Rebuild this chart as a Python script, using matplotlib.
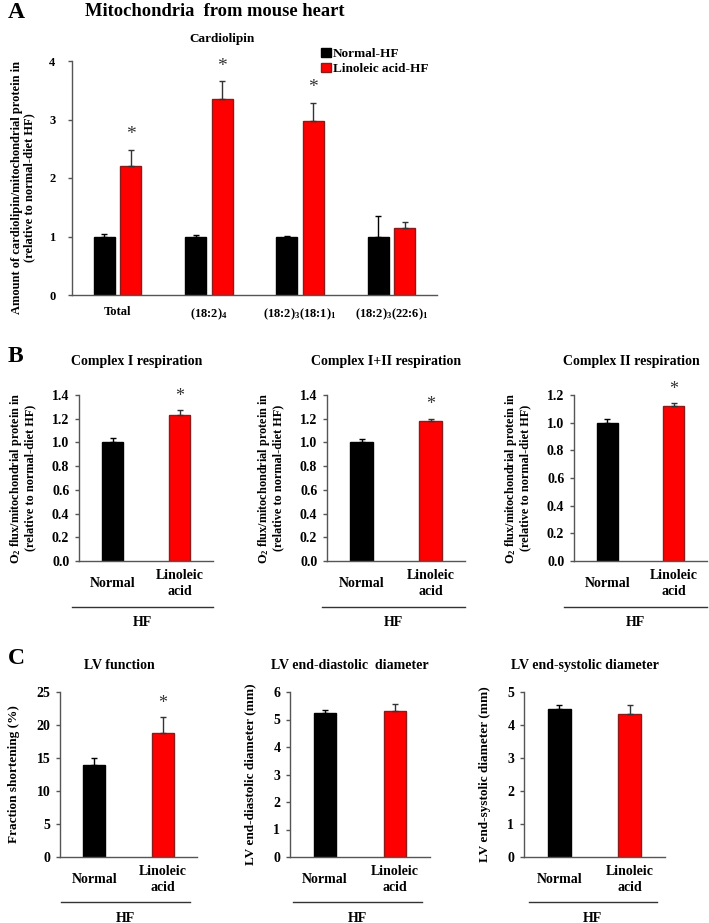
import numpy as np
import matplotlib
matplotlib.use('Agg')
import matplotlib.pyplot as plt

plt.rcParams['font.family'] = ['Liberation Serif', 'DejaVu Serif']
plt.rcParams['font.weight'] = 'bold'
plt.rcParams['axes.labelweight'] = 'bold'
plt.rcParams['mathtext.fontset'] = 'custom'
plt.rcParams['mathtext.rm'] = 'Liberation Serif:bold'
plt.rcParams['mathtext.it'] = 'Liberation Serif:bold'
plt.rcParams['mathtext.bf'] = 'Liberation Serif:bold'

# Panel A data
cl_species = ['Total', '(18:2)$_4$', '(18:2)$_3$(18:1)$_1$', '(18:2)$_3$(22:6)$_1$']
cl_normal = [1.0, 1.0, 1.0, 1.0]
cl_normal_err = [0.05, 0.03, 0.01, 0.35]
cl_linoleic = [2.2, 3.35, 2.97, 1.14]
cl_linoleic_err = [0.28, 0.3, 0.31, 0.1]
cl_sig = [True, True, True, False]

# Panel B data
resp_titles = ['Complex I respiration', 'Complex I+II respiration', 'Complex II respiration']
resp_vals = [[1.0, 1.23], [1.0, 1.18], [1.0, 1.12]]
resp_errs = [[0.035, 0.04], [0.025, 0.02], [0.025, 0.02]]
resp_ymax = [1.4, 1.4, 1.2]

# Panel C data
lv_titles = ['LV function', 'LV end-diastolic  diameter', 'LV end-systolic diameter']
lv_ylabels = ['Fraction shortening (%)', 'LV end-diastolic diameter (mm)', 'LV end-systolic diameter (mm)']
lv_vals = [[14.0, 18.8], [5.25, 5.3], [4.5, 4.32]]
lv_errs = [[1.0, 2.4], [0.08, 0.27], [0.12, 0.3]]
lv_ymax = [25, 6, 5]
lv_ystep = [5, 1, 1]
lv_sig = [True, False, False]

groups = ['Normal', 'Linoleic\nacid']
black = '#000000'
red = '#ff0000'
red_edge = '#8b1a1a'
spine_col = '#555555'

W, H = 709, 923
fig = plt.figure(figsize=(W / 100, H / 100), dpi=100)


def px_axes(x0, x1, ytop, ybot):
    return fig.add_axes([x0 / W, 1 - ybot / H, (x1 - x0) / W, (ybot - ytop) / H])


def style(ax, fs):
    for s in ['top', 'right']:
        ax.spines[s].set_visible(False)
    for s in ['left', 'bottom']:
        ax.spines[s].set_color(spine_col)
        ax.spines[s].set_linewidth(1.0)
    ax.tick_params(axis='y', direction='out', length=3, width=1, color=spine_col, labelsize=fs, pad=4)
    ax.tick_params(axis='x', length=0)


# ---- Panel A ----
axA = px_axes(72, 437, 61, 295)
x = np.arange(len(cl_species))
bw = 0.23
off = 0.145
axA.bar(x - off, cl_normal, bw, color=black, edgecolor=black, label='Normal-HF',
        yerr=[np.zeros(4), cl_normal_err], error_kw=dict(ecolor=black, capsize=2.5, elinewidth=1, capthick=1))
axA.bar(x + off, cl_linoleic, bw, color=red, edgecolor=red_edge, label='Linoleic acid-HF',
        yerr=[np.zeros(4), cl_linoleic_err], error_kw=dict(ecolor='#333333', capsize=2.5, elinewidth=1, capthick=1))
for i in range(len(x)):
    if cl_sig[i]:
        axA.annotate('*', xy=(x[i] + off, cl_linoleic[i] + cl_linoleic_err[i]), xytext=(0, 11),
                     textcoords='offset points', ha='center', va='center', fontsize=14, color='#333333',
                     fontweight='normal')
axA.set_xlim(-0.5, 3.5)
axA.set_ylim(0, 4)
axA.set_yticks([0, 1, 2, 3, 4])
axA.set_xticks(x)
axA.set_xticklabels(cl_species, fontsize=9)
style(axA, 9)
axA.tick_params(axis='x', pad=8)
axA.yaxis.set_tick_params(pad=9)
axA.set_ylabel('Amount of cardiolipin/mitochondrial protein in\n(relative to normal-diet HF)', fontsize=9,
               linespacing=1.1)
axA.yaxis.set_label_coords(-0.1, 0.46)
axA.legend(loc='upper left', bbox_to_anchor=(0.665, 1.085), frameon=False, fontsize=9.5,
           handlelength=0.7, handleheight=0.7, handletextpad=0.2, labelspacing=0.25, borderpad=0)
fig.text(8 / W, 1 - 13 / H, 'A', fontsize=17, ha='left', va='center')
fig.text(215 / W, 1 - 11 / H, 'Mitochondria  from mouse heart', fontsize=13.3, ha='center', va='center')
fig.text(222 / W, 1 - 39 / H, 'Cardiolipin', fontsize=9.5, ha='center', va='center')


def small_panel(box, title, vals, errs, ymax, ystep, ylabel, sig, fmt, line_x, title_y, ylfs, lpad):
    ax = px_axes(*box)
    xs = np.arange(2)
    ax.bar(xs[0], vals[0], 0.32, color=black, edgecolor=black,
           yerr=[[0], [errs[0]]], error_kw=dict(ecolor=black, capsize=2.5, elinewidth=1, capthick=1))
    ax.bar(xs[1], vals[1], 0.32, color=red, edgecolor=red_edge,
           yerr=[[0], [errs[1]]], error_kw=dict(ecolor='#333333', capsize=2.5, elinewidth=1, capthick=1))
    if sig:
        ax.annotate('*', xy=(xs[1], vals[1] + errs[1]), xytext=(0, 10), textcoords='offset points',
                    ha='center', va='center', fontsize=13, color='#333333', fontweight='normal')
    ax.set_xlim(-0.5, 1.5)
    ax.set_ylim(0, ymax)
    ax.set_yticks(np.arange(0, ymax + ystep / 2, ystep))
    ax.yaxis.set_major_formatter(plt.FormatStrFormatter(fmt))
    style(ax, 10)
    ax.set_xticks(xs)
    ax.set_xticklabels(groups, fontsize=10, linespacing=1.3)
    ax.tick_params(axis='x', pad=16)
    for lab in ax.get_xticklabels():
        lab.set_verticalalignment('center')
        lab.set_multialignment('center')
    ax.set_ylabel(ylabel, fontsize=ylfs, labelpad=lpad, linespacing=1.1)
    ax.plot(line_x, [-0.275, -0.275], transform=ax.transAxes, color='#333333', lw=1, clip_on=False)
    ax.text(np.mean(line_x), -0.37, 'HF', transform=ax.transAxes, ha='center', va='center', fontsize=10)
    ax.text(0.43, title_y, title, transform=ax.transAxes, ha='center', va='center', fontsize=10)
    return ax


# ---- Panel B ----
b_boxes = [(79, 213, 395, 561), (327, 465, 395, 561), (574, 707, 395, 561)]
b_lines = [(-0.05, 1.0), (-0.036, 1.0), (-0.075, 1.0)]
for i in range(3):
    small_panel(b_boxes[i], resp_titles[i], resp_vals[i], resp_errs[i], resp_ymax[i], 0.2,
                'O$_2$ flux/mitochondrial protein in\n(relative to normal-diet HF)', True, '%.1f',
                b_lines[i], 1.2, 8.8, 11)
fig.text(8 / W, 1 - 356 / H, 'B', fontsize=17, ha='left', va='center')

# ---- Panel C ----
c_boxes = [(60, 197, 692, 857), (290, 430, 692, 857), (524, 665, 692, 857)]
c_lines = [(0.007, 0.95), (0.02, 0.94), (0.035, 0.94)]
for i in range(3):
    small_panel(c_boxes[i], lv_titles[i], lv_vals[i], lv_errs[i], lv_ymax[i], lv_ystep[i],
                lv_ylabels[i], lv_sig[i], '%d', c_lines[i], 1.16, 9.5, 12)
fig.text(8 / W, 1 - 658 / H, 'C', fontsize=17, ha='left', va='center')

fig.savefig('out.png', dpi=100)
